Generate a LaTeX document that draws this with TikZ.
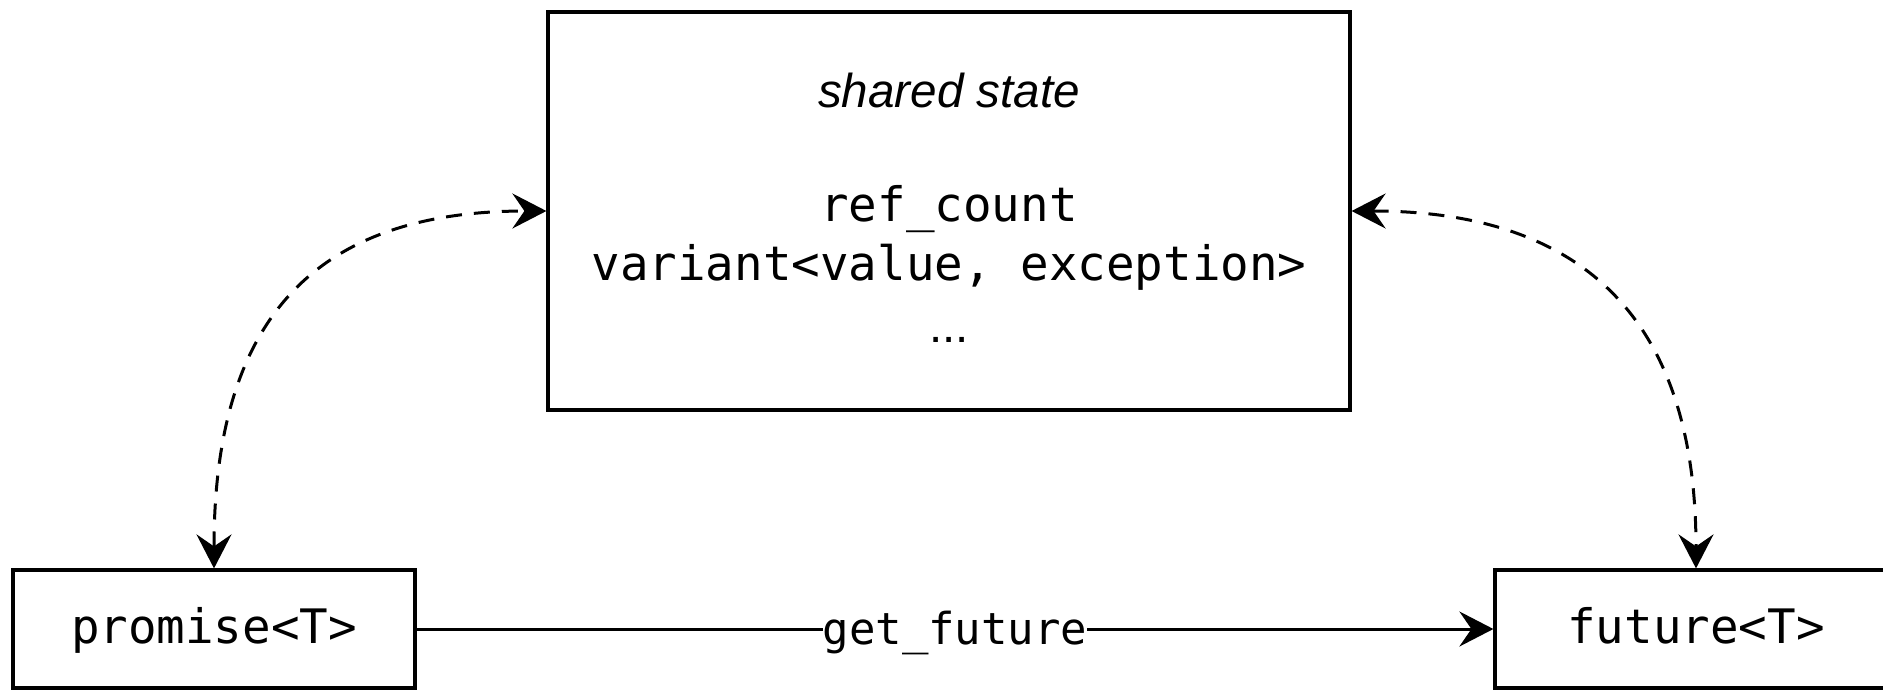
\documentclass[tikz,border=0pt]{standalone}
\usepackage{fontspec}
\setmainfont{Liberation Sans}
\newfontfamily\monof{DejaVu Sans Mono}
\usetikzlibrary{arrows.meta}
\begin{document}
\begin{tikzpicture}[x=1pt,y=-1pt,
  box/.style={draw, line width=3.2pt, inner sep=0pt},
  monotxt/.style={font=\monof\fontsize{47.5}{57}\selectfont},
  linetxt/.style={monotxt, inner sep=0pt, anchor=base},
  smallbox/.style={box, monotxt, minimum width=402pt, minimum height=118pt, text height=38pt, text depth=10pt},
  tip/.tip={Stealth[length=34pt,width=35pt,inset=12pt]},
  conn/.style={line width=3pt, -tip},
  dconn/.style={line width=3pt, dash pattern=on 16pt off 12pt, tip-tip},
  lbl/.style={font=\monof\fontsize{44}{52}\selectfont, fill=white, inner sep=0pt, text height=36pt, text depth=6pt}
]
\useasboundingbox (0,0) rectangle (1883,689);
\node[box, minimum width=802pt, minimum height=398pt] (state) at (949,211) {};
\node[font=\itshape\fontsize{47.6}{57}\selectfont, inner sep=0pt, anchor=base] (title) at (949,107) {shared state};
\node[linetxt] (rc) at (949,221) {ref\_count};
\node[linetxt] (var) at (949,280) {variant<value, exception>};
\node[font=\fontsize{47.5}{57}\selectfont, inner sep=0pt, anchor=base] (dots) at (949,342) {...};
\node[smallbox] (promise) at (214,629) {promise<T>};
\node[smallbox] (future) at (1696,629) {future<T>};
\draw[conn] (promise) -- node[lbl] (gf) {get\_future} (future);
\draw[dconn] (promise.north) .. controls +(0,-240) and +(-240,0) .. (state.west);
\draw[dconn] (state.east) .. controls +(240,0) and +(0,-240) .. (future.north);
\end{tikzpicture}
\end{document}
